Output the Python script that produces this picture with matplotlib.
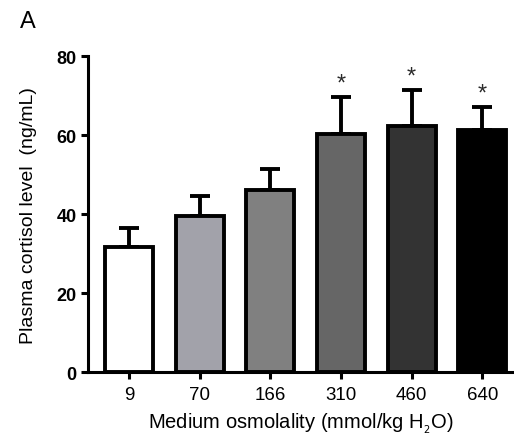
import numpy as np
import matplotlib.pyplot as plt

plt.rcParams['font.family'] = ['Liberation Sans', 'DejaVu Sans']

groups = ['9', '70', '166', '310', '460', '640']
means = [31.8, 39.5, 46.2, 60.4, 62.4, 61.2]
sem = [4.6, 5.0, 5.2, 9.2, 9.0, 6.0]
signif = [False, False, False, True, True, True]
colors = ['#ffffff', '#a2a2aa', '#808080', '#666666', '#333333', '#000000']

fig = plt.figure(figsize=(5.14, 4.39), dpi=100)
ax = fig.add_axes([0.171, 0.150, 0.829, 0.720])

x = np.arange(len(groups))
ax.bar(x, means, width=0.68, color=colors, edgecolor='black', linewidth=2.8, zorder=2)
ax.errorbar(x, means, yerr=[np.zeros(len(sem)), sem], fmt='none', ecolor='black',
            elinewidth=2.8, capsize=7, capthick=2.8, zorder=1)

# significance markers
for xi, m, e, s in zip(x, means, sem, signif):
    if s:
        ax.text(xi, m + e + 0.6, '*', ha='center', va='bottom', fontsize=17, color='#2a2a2a')

ax.set_xlim(-0.58, 5.45)
ax.set_ylim(0, 80)
ax.set_yticks([0, 20, 40, 60, 80])
ax.set_xticks(x)
ax.set_xticklabels(groups, fontsize=13.5)
for lab in ax.get_yticklabels():
    lab.set_fontsize(13)
    lab.set_fontweight('bold')

ax.spines['top'].set_visible(False)
ax.spines['right'].set_visible(False)
ax.spines['left'].set_linewidth(2.2)
ax.spines['bottom'].set_linewidth(2.2)
ax.tick_params(direction='out', length=5, width=2.2, pad=3)
ax.tick_params(axis='x', pad=5)

ax.set_ylabel('Plasma cortisol level  (ng/mL)', fontsize=14, labelpad=14)
ax.set_xlabel('Medium osmolality (mmol/kg H$_{_2}$O)', fontsize=14.5, labelpad=5)

fig.text(0.055, 0.95, 'A', fontsize=17, ha='center', va='center')

fig.savefig('out.png', dpi=100)
